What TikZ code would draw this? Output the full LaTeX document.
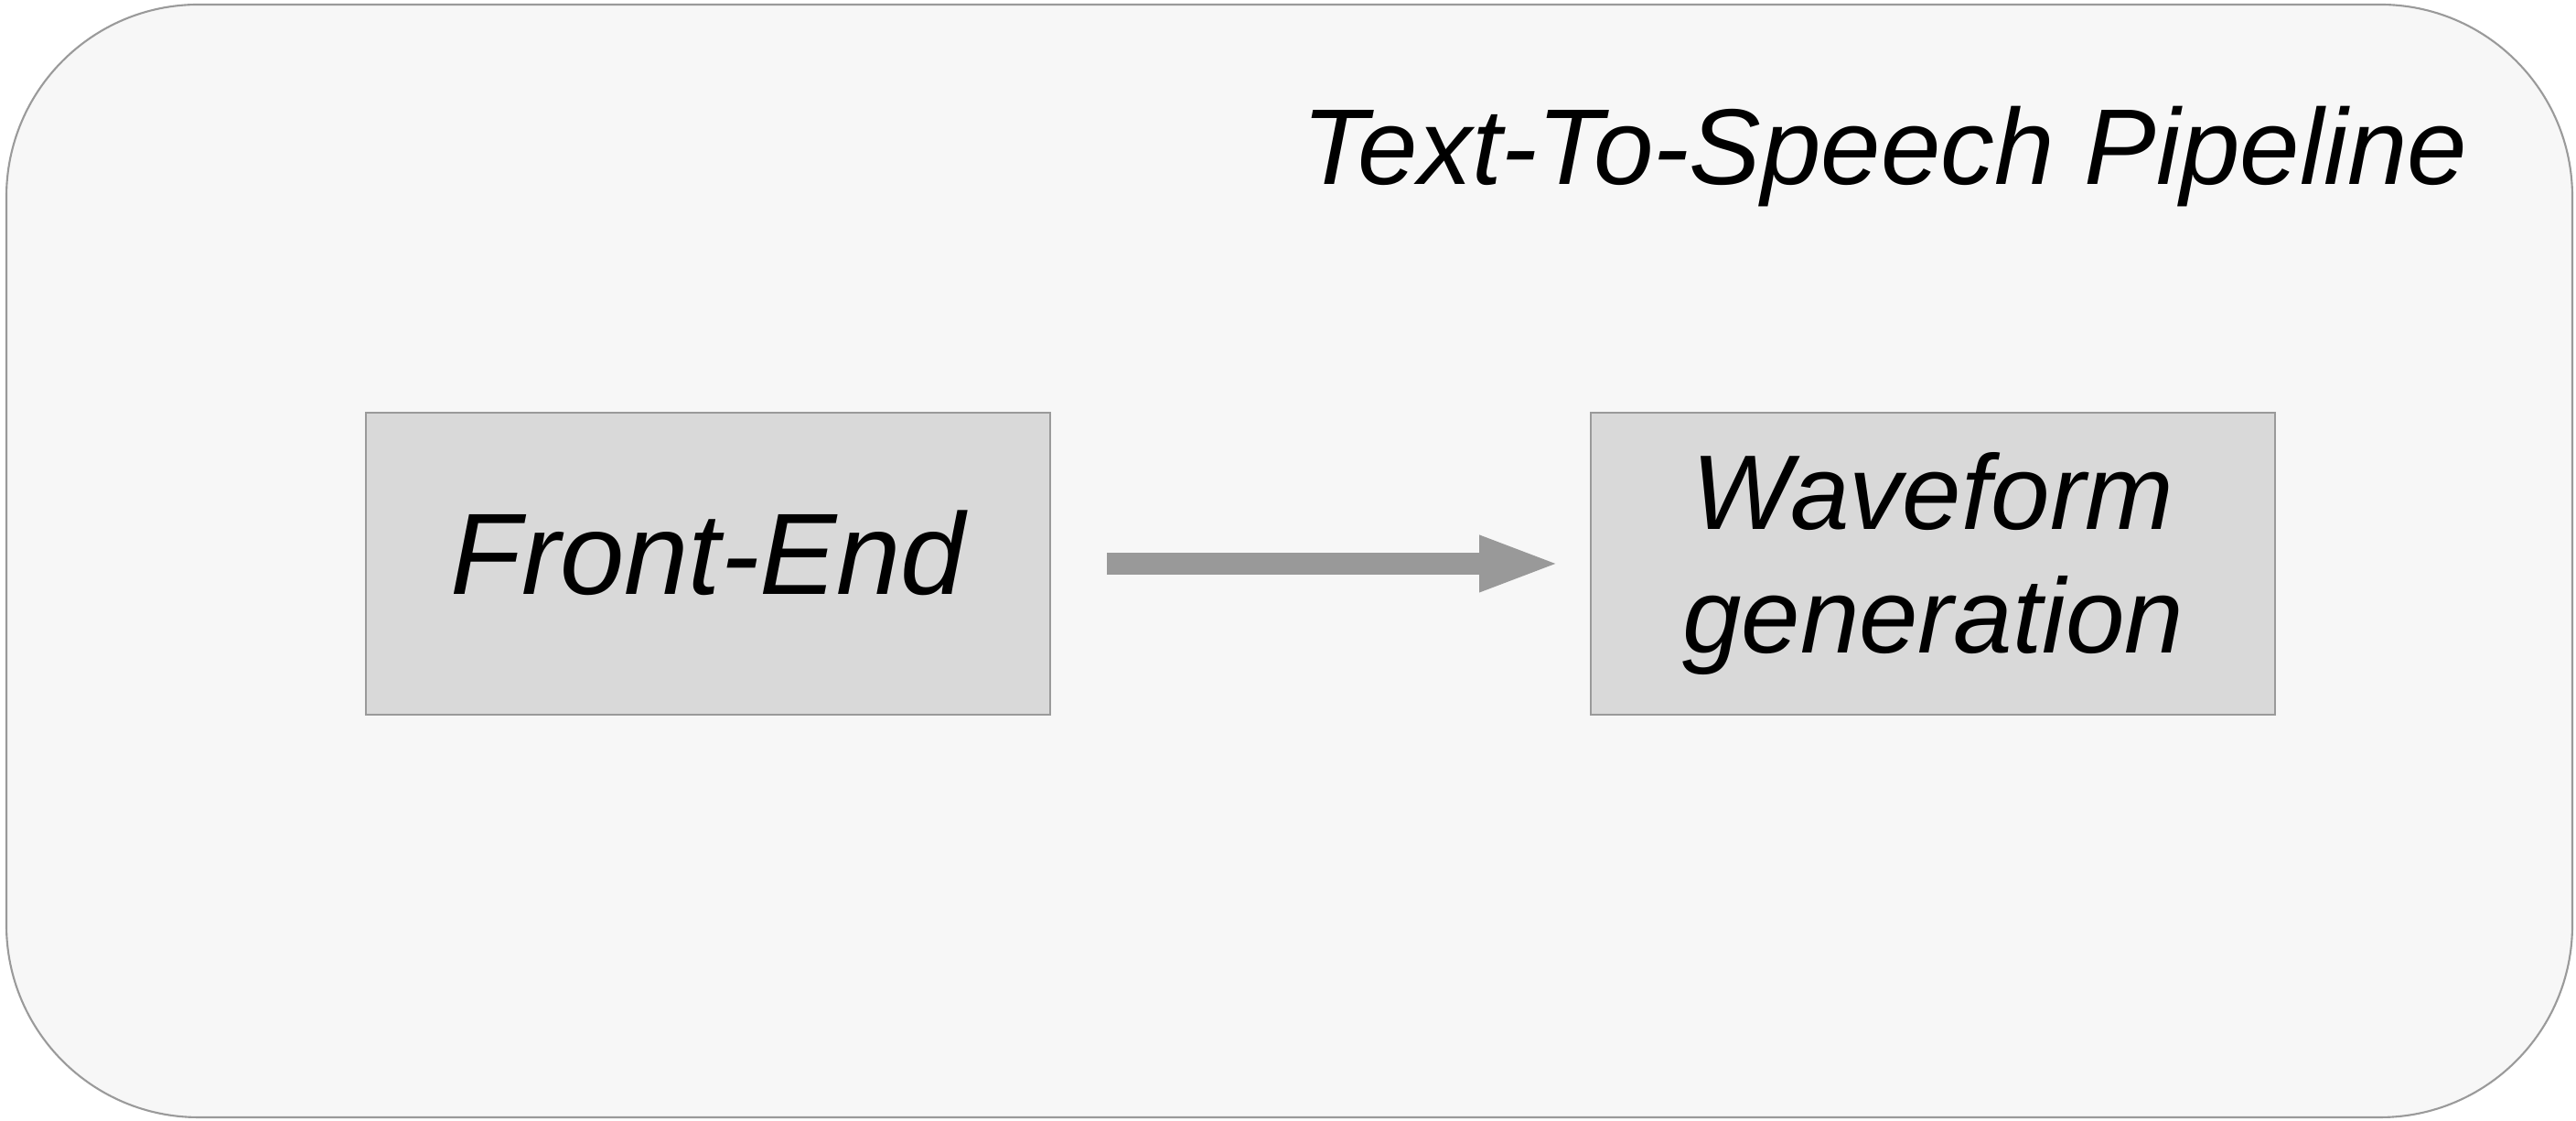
\documentclass[tikz,border=0pt]{standalone}
\usepackage{fontspec}
\setmainfont{Liberation Sans}
\usetikzlibrary{arrows.meta,positioning}
\definecolor{panelfill}{HTML}{F7F7F7}
\definecolor{panelline}{HTML}{9A9A9A}
\definecolor{stagefill}{HTML}{D9D9D9}
\definecolor{flowgray}{HTML}{999999}

\begin{document}
\begin{tikzpicture}[>=Latex,node distance=5.89cm]
  \tikzstyle{stage}=[draw=panelline,line width=0.6pt,fill=stagefill,minimum width=7.48cm,minimum height=3.30cm,align=center,font=\fontsize{33}{38.5}\selectfont\itshape]
  \tikzstyle{flow}=[draw=flowgray,line width=0.24cm,-{Triangle[length=0.9cm,width=0.55cm]}]
  \useasboundingbox (0,0) rectangle (28.16,12.25);
  % pipeline panel
  \draw[panelline,fill=panelfill,line width=0.6pt,rounded corners=2.1cm] (0.07,0.04) rectangle (28.12,12.20);
  \node[anchor=base east,font=\fontsize{33.5}{38.5}\selectfont\itshape] (title) at (27.10,10.23) {Text-To-Speech Pipeline};
  \node[stage,font=\fontsize{36}{42}\selectfont\itshape,text depth=0.25cm] (front) at (7.74,6.09) {Front-End};
  \node[stage,right=of front] (wave) {Waveform\\generation};
  \draw[flow,shorten <=0.61cm,shorten >=0.31cm] (front) -- (wave);
\end{tikzpicture}
\end{document}
